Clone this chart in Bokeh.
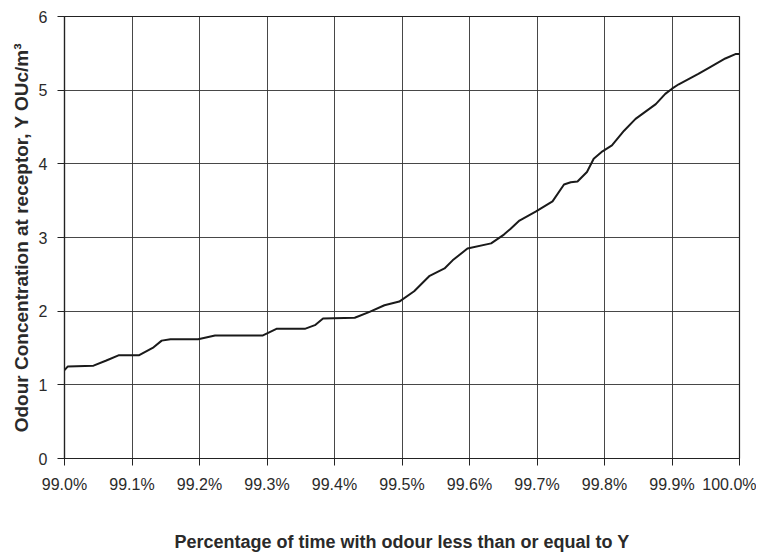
from bokeh.plotting import figure
from bokeh.models import FixedTicker, PrintfTickFormatter, Range1d
from bokeh.embed import file_html
from bokeh.resources import INLINE

# Percentage of time (x) and odour concentration (y)
pct_time = [99.000, 99.005, 99.043, 99.062, 99.080, 99.110, 99.132, 99.144, 99.157,
            99.198, 99.223, 99.294, 99.314, 99.356, 99.371, 99.383, 99.430, 99.452,
            99.474, 99.496, 99.518, 99.541, 99.563, 99.575, 99.597, 99.632, 99.651,
            99.661, 99.674, 99.698, 99.723, 99.740, 99.750, 99.760, 99.774, 99.784,
            99.797, 99.811, 99.829, 99.846, 99.876, 99.890, 99.900, 99.910, 99.939,
            99.954, 99.979, 99.994, 100.000]
odour_conc = [1.20, 1.25, 1.26, 1.33, 1.40, 1.40, 1.51, 1.60, 1.62,
              1.62, 1.67, 1.67, 1.76, 1.76, 1.81, 1.90, 1.91, 1.99,
              2.08, 2.13, 2.27, 2.48, 2.58, 2.69, 2.85, 2.92, 3.04,
              3.12, 3.23, 3.35, 3.49, 3.72, 3.75, 3.76, 3.89, 4.07,
              4.17, 4.25, 4.45, 4.61, 4.81, 4.95, 5.02, 5.08, 5.22,
              5.30, 5.43, 5.49, 5.49]

x_ticks = [99.0, 99.1, 99.2, 99.3, 99.4, 99.5, 99.6, 99.7, 99.8, 99.9, 100.0]
y_ticks = [0, 1, 2, 3, 4, 5, 6]

x_title = "Percentage of time with odour less than or equal to Y"
y_title = "Odour Concentration at receptor, Y OUc/m\u00b3"

p = figure(width=756, height=554, output_backend="svg", toolbar_location=None,
           x_range=Range1d(99.0, 100.0), y_range=Range1d(0, 6),
           min_border_left=64, min_border_right=17, min_border_top=16,
           min_border_bottom=10)

p.line(pct_time, odour_conc, line_color="#1a1a1a", line_width=2)

p.outline_line_color = "#222222"
p.outline_line_width = 1.2

p.xaxis.ticker = FixedTicker(ticks=x_ticks)
p.yaxis.ticker = FixedTicker(ticks=y_ticks)
p.xaxis.formatter = PrintfTickFormatter(format="%.1f%%")

for ax in (p.xaxis, p.yaxis):
    ax.axis_line_color = "#222222"
    ax.axis_line_width = 1.2
    ax.major_tick_line_color = "#222222"
    ax.major_tick_out = 7
    ax.major_tick_in = 0
    ax.minor_tick_line_color = None
    ax.major_label_text_font = "Liberation Sans"
    ax.major_label_text_font_size = "16px"
    ax.major_label_text_color = "#2a2a2a"
    ax.axis_label_text_font = "Liberation Sans"
    ax.axis_label_text_font_style = "bold"
    ax.axis_label_text_color = "#2a2a2a"

p.xaxis.axis_label = x_title
p.yaxis.axis_label = y_title
p.xaxis.axis_label_text_font_size = "18px"
p.yaxis.axis_label_text_font_size = "19px"
p.xaxis.major_label_standoff = 10
p.yaxis.major_label_standoff = 10
p.xaxis.axis_label_standoff = 36
p.yaxis.axis_label_standoff = 4

p.xgrid.ticker = FixedTicker(ticks=x_ticks)
p.ygrid.ticker = FixedTicker(ticks=y_ticks)
p.grid.grid_line_color = "#333333"
p.grid.grid_line_width = 1
p.grid.grid_line_alpha = 0.9

p.background_fill_color = "white"
p.border_fill_color = "white"

open("out.html", "w").write(file_html(p, INLINE))
